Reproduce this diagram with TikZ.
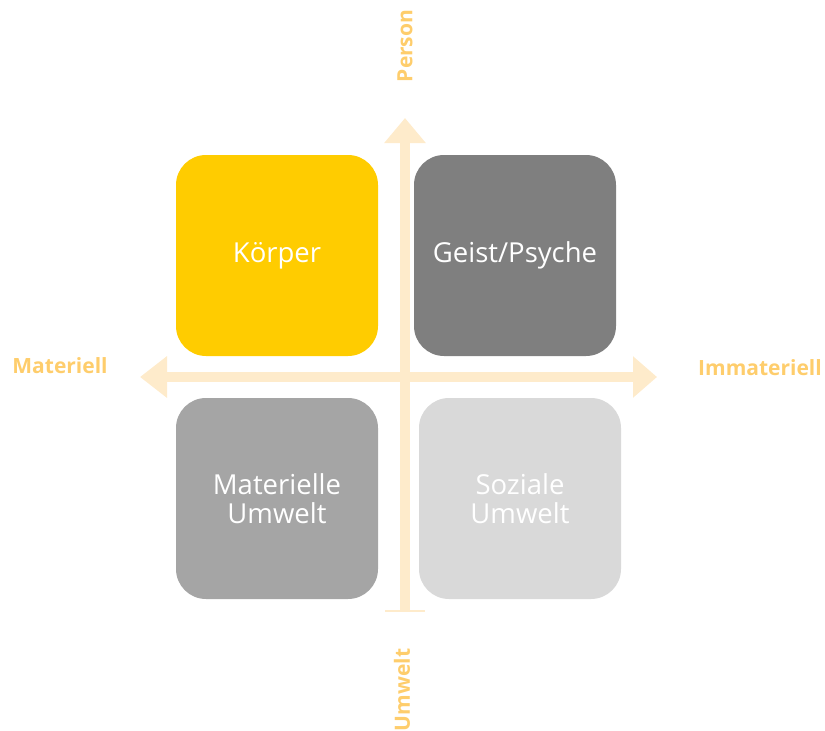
\documentclass[tikz,border=0pt]{standalone}
\usepackage{fontspec}
\setmainfont{Open Sans}
\usepackage{tikz}
\usetikzlibrary{arrows.meta}

\definecolor{axisfill}{HTML}{FEEBCB}
\definecolor{axislabel}{HTML}{FECD6C}
\definecolor{bodyyellow}{HTML}{FFCC00}
\definecolor{darkgrey}{HTML}{7F7F7F}
\definecolor{midgrey}{HTML}{A5A5A5}
\definecolor{lightgrey}{HTML}{D9D9D9}

\begin{document}
\begin{tikzpicture}[x=1pt,y=-1pt,
  quad/.style={rounded corners=30pt,minimum width=202pt,minimum height=201pt,inner sep=0pt,
    text=white,align=center,font=\fontsize{27.5}{28.5}\selectfont},
  axis/.style={draw=axisfill,line width=10pt},
  axtip/.style={-{Triangle[width=40pt,length=25pt]}},
  axlabel/.style={text=axislabel,font=\fontsize{21}{25}\selectfont\bfseries}]
  \useasboundingbox (0,0) rectangle (825,731);
  % quadrants
  \node[quad,fill=bodyyellow] (koerper)  at (277,255.5) {Körper};
  \node[quad,fill=darkgrey]   (geist)    at (515,255.5) {Geist/Psyche};
  \node[quad,fill=midgrey]    (matumw)   at (277,498.5) {Materielle\\Umwelt};
  \node[quad,fill=lightgrey]  (sozumw)   at (520,498.5) {Soziale\\Umwelt};
  % axis ends
  \coordinate (top)   at (405,118);
  \coordinate (bot)   at (405,611);
  \coordinate (left)  at (140,377);
  \coordinate (right) at (657,377);
  \draw[axis,axtip] (bot) -- (top);
  \draw[axis,{Triangle[width=40pt,length=27pt]}-{Triangle[width=40pt,length=24pt]}] (left) -- (right);
  \draw[draw=axisfill,line width=2.5pt] ([xshift=-20pt]bot) -- ([xshift=20pt]bot);
  % labels
  \node[axlabel,rotate=90] (person)  at (405,46)  {Person};
  \node[axlabel,rotate=90] (umwelt)  at (402,690) {Umwelt};
  \node[axlabel]           (mat)     at (60,366)  {Materiell};
  \node[axlabel]           (immat)   at (760,368) {Immateriell};
\end{tikzpicture}
\end{document}
